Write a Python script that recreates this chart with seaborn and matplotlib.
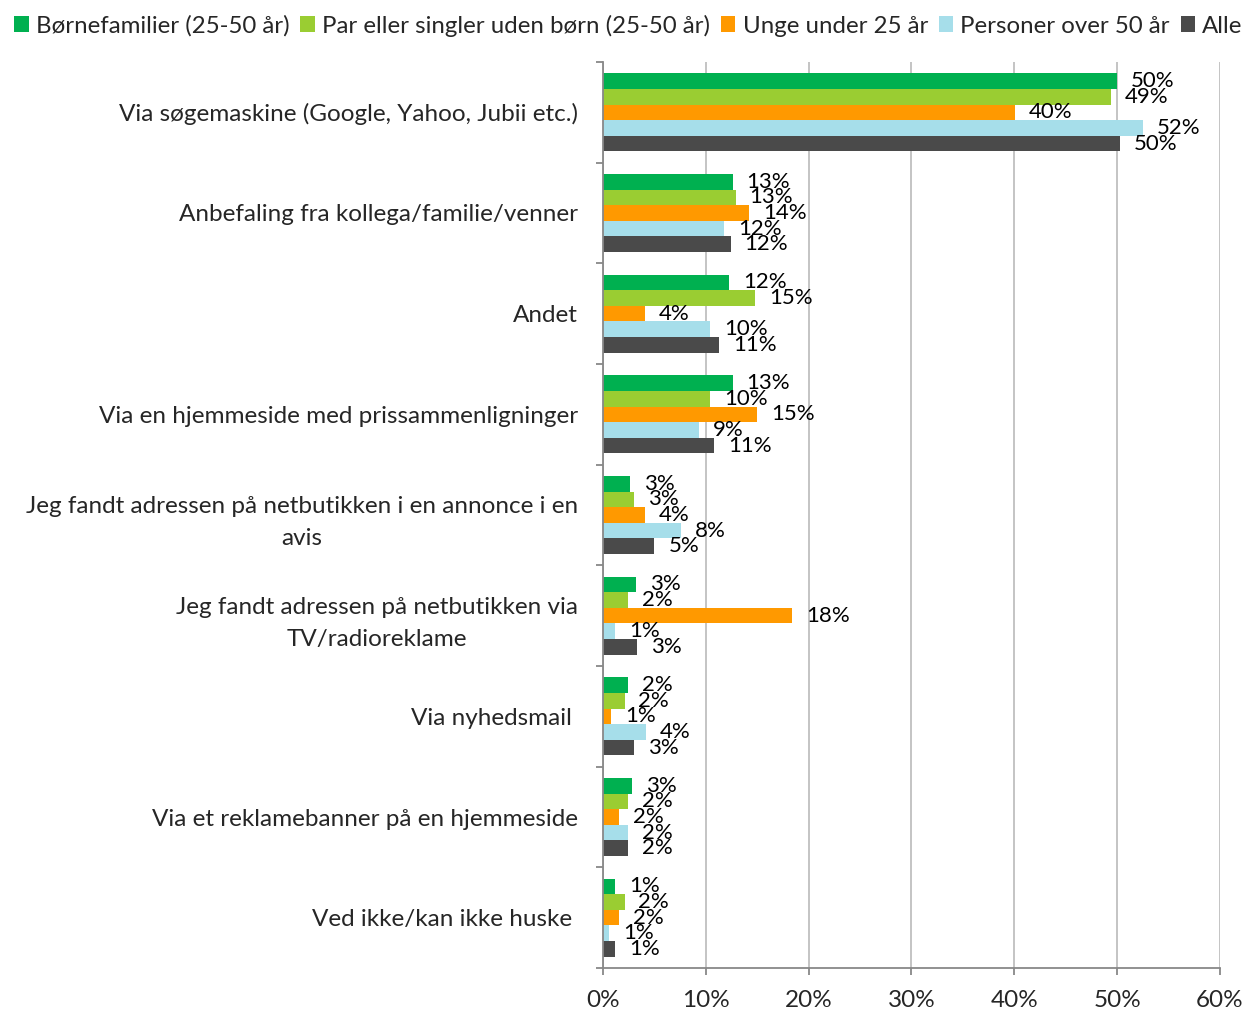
import matplotlib
matplotlib.use("Agg")
import matplotlib.pyplot as plt
import seaborn as sns
import pandas as pd
from matplotlib.patches import Patch
from matplotlib.ticker import PercentFormatter, FixedLocator

categories = [
    "Via søgemaskine (Google, Yahoo, Jubii etc.)",
    "Anbefaling fra kollega/familie/venner",
    "Andet",
    "Via en hjemmeside med prissammenligninger",
    "Jeg fandt adressen på netbutikken i en annonce i en\navis",
    "Jeg fandt adressen på netbutikken via\nTV/radioreklame",
    "Via nyhedsmail ",
    "Via et reklamebanner på en hjemmeside",
    "Ved ikke/kan ikke huske ",
]
series = [
    "Børnefamilier (25-50 år)",
    "Par eller singler uden børn (25-50 år)",
    "Unge under 25 år",
    "Personer over 50 år",
    "Alle",
]
boernefamilier = [50.0, 12.6, 12.3, 12.6, 2.6, 3.2, 2.4, 2.8, 1.2]
par_singler = [49.4, 12.9, 14.8, 10.4, 3.0, 2.4, 2.1, 2.4, 2.1]
unge = [40.1, 14.2, 4.1, 15.0, 4.1, 18.4, 0.8, 1.6, 1.6]
over50 = [52.5, 11.8, 10.4, 9.3, 7.6, 1.2, 4.2, 2.4, 0.6]
alle = [50.3, 12.4, 11.3, 10.8, 5.0, 3.3, 3.0, 2.4, 1.2]
colors = ["#00B050", "#9ACD32", "#FF9900", "#A6DEEA", "#4A4A4A"]
x_ticks = [0, 10, 20, 30, 40, 50, 60]

values = [boernefamilier, par_singler, unge, over50, alle]
rows = []
for s, vals in zip(series, values):
    for c, v in zip(categories, vals):
        rows.append({"category": c, "series": s, "value": v})
df = pd.DataFrame(rows)

sns.set_theme(style="white")
plt.rcParams["font.family"] = ["Lato", "DejaVu Sans"]

fig = plt.figure(figsize=(12.56, 10.10), dpi=100)
ax = fig.add_axes([603 / 1256, 1 - 968 / 1010, (1220 - 603) / 1256, (968 - 62) / 1010])

sns.barplot(data=df, x="value", y="category", hue="series", orient="h",
            order=categories, hue_order=series, palette=colors,
            width=0.775, ax=ax, legend=False, saturation=1, linewidth=0)

for cont in ax.containers:
    labels = [f"{b.get_width():.0f}%" for b in cont]
    ax.bar_label(cont, labels=labels, padding=10, fontsize=16, color="#000000")

ax.set_xlim(0, 60)
ax.set_ylim(len(categories) - 0.5, -0.5)
ax.xaxis.set_major_locator(FixedLocator(x_ticks))
ax.xaxis.set_major_formatter(PercentFormatter(decimals=0))
ax.grid(axis="x", color="#BFBFBF", linewidth=1.3)
ax.set_axisbelow(True)
ax.set_xlabel("")
ax.set_ylabel("")

for side in ["top", "right"]:
    ax.spines[side].set_visible(False)
for side in ["left", "bottom"]:
    ax.spines[side].set_color("#888888")
    ax.spines[side].set_linewidth(1.3)

ax.tick_params(axis="x", which="major", length=5, width=1.3, color="#888888",
               labelsize=17.5, pad=11, direction="out", bottom=True)
ax.tick_params(axis="y", which="major", length=0, labelsize=17.5, pad=18)
ax.yaxis.set_minor_locator(FixedLocator([i - 0.5 for i in range(len(categories) + 1)]))
ax.tick_params(axis="y", which="minor", length=5, width=1.3, color="#888888",
               direction="out", left=True)
for lbl in ax.get_yticklabels():
    lbl.set_multialignment("center")
    lbl.set_linespacing(1.65)

handles = [Patch(facecolor=c, edgecolor="none") for c in colors]
fig.legend(handles, series, loc="upper left", bbox_to_anchor=(0.0, 1.0),
           ncol=5, frameon=False, fontsize=17.3, handlelength=0.6,
           handleheight=0.6, handletextpad=0.3, columnspacing=0.45,
           borderaxespad=0.3, borderpad=0.3)

fig.savefig("out.png", dpi=100, facecolor="white")
